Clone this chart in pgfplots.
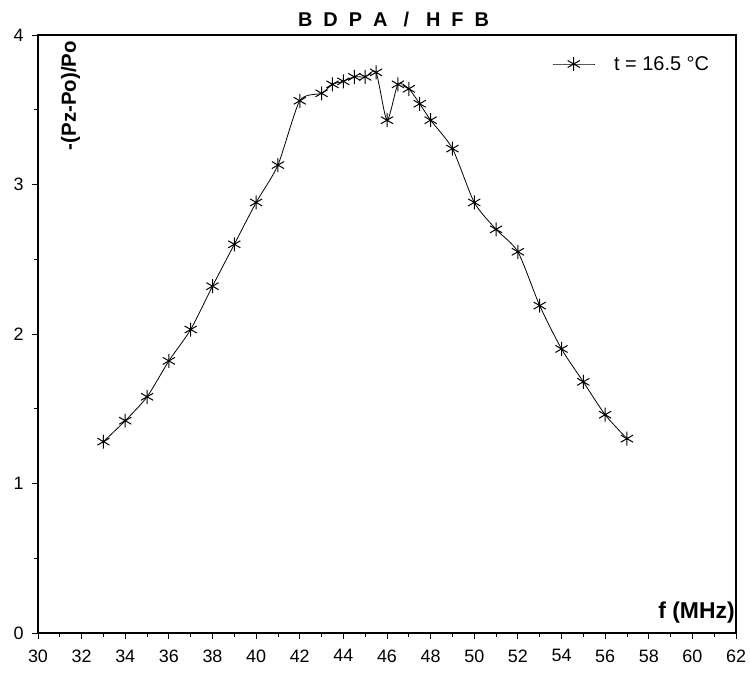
\documentclass[border=0pt]{standalone}
\usepackage{fontspec}
\setmainfont{Liberation Sans}
\usepackage{pgfplots}
\pgfplotsset{compat=1.18}
\begin{document}
\begin{tikzpicture}
\begin{axis}[
  scale only axis,
  width=698bp, height=598bp,
  xmin=30, xmax=62, ymin=0, ymax=4,
  xtick={30,32,...,62}, ytick={0,1,2,3,4},
  minor x tick num=1, minor y tick num=1,
  tick pos=left, tick align=outside,
  major tick length=6bp, minor tick length=4bp,
  axis line style={line width=1.1bp},
  every tick/.style={black, line width=0.8bp},
  /pgf/number format/assume math mode=true,
  tick label style={font=\fontsize{18}{20}\selectfont},
  xticklabel style={yshift=-7bp},
  yticklabel style={xshift=-5bp},
  clip=false,
  legend style={draw=none, fill=none, at={(axis cs:53.57,3.806)}, anchor=west,
    font=\fontsize{20}{22}\selectfont, inner sep=0pt, nodes={inner sep=0pt}},
  legend cell align=left,
  legend image code/.code={\draw[#1, mark repeat=2, mark phase=2] plot coordinates {(0bp,0bp) (21bp,0bp) (42bp,0bp)};},
]
\addplot[black, line width=0.8bp, smooth, tension=0.4, mark=asterisk, mark size=7bp,
  mark options={line width=1bp, solid}] coordinates {
(33,1.28) (34,1.42) (35,1.58) (36,1.82) (37,2.03) (38,2.32) (39,2.60) (40,2.88)
(41,3.13) (42,3.56) (43,3.61) (43.5,3.67) (44,3.69) (44.5,3.72) (45,3.72) (45.5,3.75)
(46,3.43) (46.5,3.67) (47,3.64) (47.5,3.54) (48,3.43) (49,3.24) (50,2.88) (51,2.70)
(52,2.55) (53,2.19) (54,1.90) (55,1.68) (56,1.46) (57,1.30)
};
\addlegendentry{\hspace{19bp}t = 16.5 °C}
\node[font=\bfseries\fontsize{20.5}{22}\selectfont, rotate=90, anchor=east, inner sep=0pt]
  at (axis cs:31.5,3.96) {-(Pz-Po)/Po};
\node[font=\bfseries\fontsize{23}{25}\selectfont, anchor=base east, inner sep=0pt]
  at (axis cs:61.95,0.10) {f (MHz)};
\node[font=\bfseries\fontsize{20}{22}\selectfont, anchor=base, inner sep=0pt]
  at (axis cs:46.3,4.056) {B\hspace{11bp}D\hspace{11bp}P\hspace{11bp}A\hspace{16bp}/\hspace{17bp}H\hspace{11bp}F\hspace{11bp}B};
\end{axis}
\pgfresetboundingbox
\path[use as bounding box] ([shift={(-38bp,-43bp)}]current axis.south west) rectangle ([shift={(14bp,35bp)}]current axis.north east);
\end{tikzpicture}
\end{document}
